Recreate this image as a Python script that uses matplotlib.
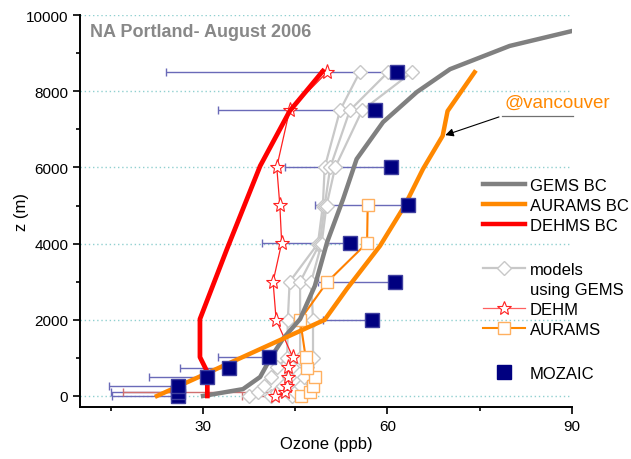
import numpy as np
import matplotlib
matplotlib.use("Agg")
import matplotlib.pyplot as plt
from matplotlib.lines import Line2D

plt.rcParams['font.family'] = ['Liberation Sans', 'DejaVu Sans']

# boundary conditions profiles
gems_bc_z = [0, 180, 500, 970, 1500, 2020, 2890, 4040, 5170, 6220, 7190, 7980, 8580, 9190, 9580]
gems_bc_o3 = [30.0, 36.5, 39.3, 40.9, 43.0, 45.8, 48.2, 50.2, 52.8, 55.0, 59.3, 64.8, 70.2, 79.9, 90.0]

aurams_bc_z = [0, 2000, 2810, 3940, 4990, 5960, 6830, 7480, 8500]
aurams_bc_o3 = [22.5, 49.8, 53.4, 58.8, 62.8, 65.8, 69.0, 69.8, 74.2]

dehms_bc_z = [0, 630, 1020, 2020, 3860, 6040, 7480, 8530]
dehms_bc_o3 = [30.7, 30.7, 29.5, 29.5, 33.9, 39.3, 44.1, 49.5]

# models driven by GEMS
gems_models_z = [0, 100, 250, 500, 750, 1000, 2000, 3000, 4000, 5000, 6000, 7500, 8500]
gems_model_a = [37.5, 39.0, 40.0, 41.0, 42.0, 43.7, 43.8, 44.1, 48.7, 49.5, 49.8, 52.3, 55.5]
gems_model_b = [41.0, 42.0, 43.0, 44.0, 44.5, 45.8, 45.8, 45.8, 49.0, 49.8, 50.7, 53.9, 60.1]
gems_model_c = [44.5, 45.0, 46.0, 46.5, 47.0, 47.9, 47.9, 47.6, 49.3, 50.1, 51.5, 55.9, 64.0]

dehm_z = [0, 100, 260, 500, 760, 1020, 2000, 3000, 4020, 5010, 6010, 7510, 8500]
dehm_o3 = [41.7, 43.3, 43.7, 43.8, 43.8, 44.6, 41.9, 41.4, 42.8, 42.5, 42.0, 44.1, 50.2]

aurams_z = [0, 100, 260, 500, 740, 1020, 2000, 2990, 4020, 5010]
aurams_o3 = [45.9, 47.4, 47.9, 48.2, 47.0, 46.7, 45.8, 50.2, 56.7, 56.8]

# MOZAIC observations, left extent of the bars
mozaic_z = [0, 100, 260, 500, 740, 1020, 2000, 2990, 4020, 5010, 6010, 7510, 8500]
mozaic_o3 = [25.9, 25.9, 25.9, 30.7, 34.2, 40.7, 57.5, 61.2, 53.9, 63.3, 60.6, 58.0, 61.5]
mozaic_lo = [15.2, 15.0, 14.7, 21.2, 26.3, 32.4, 49.5, 48.7, 39.6, 48.2, 43.3, 32.4, 23.9]

dehm_err_z = [0, 100]
dehm_err_o3 = [41.7, 43.3]
dehm_err_lo = [36.3, 17.0]

fig = plt.figure(figsize=(6.31, 4.60), dpi=100)
ax = fig.add_axes([0.127, 0.113, 0.779, 0.852])

for yv in range(0, 10001, 2000):
    ax.axhline(yv, color='#90d0d0', ls=(0, (1, 2)), lw=1, zorder=0)

ax.errorbar(mozaic_o3, mozaic_z,
            xerr=[np.array(mozaic_o3) - np.array(mozaic_lo), np.zeros(len(mozaic_o3))],
            fmt='none', ecolor='#6a6ab8', elinewidth=1, capsize=3, zorder=1)
ax.errorbar(dehm_err_o3, dehm_err_z,
            xerr=[np.array(dehm_err_o3) - np.array(dehm_err_lo), np.zeros(2)],
            fmt='none', ecolor='#d07070', elinewidth=1, capsize=3, zorder=1)

mstyle = dict(color='#c8c8c8', lw=1.6, marker='D', ms=7, mfc='white', mec='#c8c8c8', mew=1)
for m in (gems_model_a, gems_model_b, gems_model_c):
    ax.plot(m, gems_models_z, zorder=2, **mstyle)

ax.plot(dehm_o3, dehm_z, color='#ff2020', lw=0.9, marker='*', ms=11, mfc='white', mec='#ff2020', mew=0.8, zorder=3)
ax.plot(aurams_o3, aurams_z, color='#ff8000', lw=1.5, marker='s', ms=8, mfc='white', mec='#ffb060', mew=1, zorder=3)

ax.plot(gems_bc_o3, gems_bc_z, color='#808080', lw=3.2, zorder=4)
ax.plot(aurams_bc_o3, aurams_bc_z, color='#ff8800', lw=3.2, zorder=4)
ax.plot(dehms_bc_o3, dehms_bc_z, color='#ff0000', lw=3.4, zorder=4)

ax.plot(mozaic_o3, mozaic_z, ls='none', marker='s', ms=10, color='#000080', mec='#4040a0', zorder=5)

ax.set_xlim(10, 90)
ax.set_ylim(-290, 10000)
ax.set_xticks([30, 60, 90])
ax.set_xticks([15, 45, 75], minor=True)
ax.set_yticks(range(0, 10001, 2000))
ax.set_yticks(range(1000, 10000, 2000), minor=True)
ax.tick_params(direction='out', length=5, width=1.2, labelsize=11)
ax.tick_params(which='minor', direction='out', length=3, width=1.2)
for s in ('top', 'right'):
    ax.spines[s].set_visible(False)
for s in ('left', 'bottom'):
    ax.spines[s].set_linewidth(1.4)

ax.set_xlabel('Ozone (ppb)', fontsize=12)
ax.set_ylabel('z (m)', fontsize=12)
ax.xaxis.set_label_coords(0.5, -0.075)
ax.yaxis.set_label_coords(-0.105, 0.5)

ax.text(11.6, 9560, 'NA Portland- August 2006', color='#888888', fontsize=13,
        fontweight='bold', va='center', ha='left')

ax.text(79.0, 7720, '@vancouver', color='#ff8800', fontsize=13.5, va='center', ha='left')
ax.plot([78.6, 90.2], [7350, 7350], color='#707070', lw=0.9, clip_on=False)
ax.annotate('', xy=(69.0, 6825), xytext=(78.6, 7350),
            arrowprops=dict(arrowstyle='-|>', color='black', lw=0.8, mutation_scale=12))

leg_kw = dict(loc='upper left', frameon=False, fontsize=12, handlelength=2.5,
              handletextpad=0.3, labelspacing=0.3, borderpad=0, borderaxespad=0)

bc_handles = [
    Line2D([], [], color='#808080', lw=3.2),
    Line2D([], [], color='#ff8800', lw=3.2),
    Line2D([], [], color='#ff0000', lw=3.2),
]
leg1 = ax.legend(bc_handles, ['GEMS BC', 'AURAMS BC', 'DEHMS BC'],
                 bbox_to_anchor=(0.82, 0.585), **leg_kw)
ax.add_artist(leg1)

model_handles = [
    Line2D([], [], **mstyle),
    Line2D([], [], ls='none'),
    Line2D([], [], color='#ff6060', lw=0.9, marker='*', ms=10, mfc='white', mec='#ff2020', mew=0.8),
    Line2D([], [], color='#ff8800', lw=1.5, marker='s', ms=8, mfc='white', mec='#ffb060'),
]
leg2 = ax.legend(model_handles, ['models', 'using GEMS', 'DEHM', 'AURAMS'],
                 bbox_to_anchor=(0.82, 0.37), **leg_kw)
ax.add_artist(leg2)

ax.legend([Line2D([], [], ls='none', marker='s', ms=10, color='#000080')], ['MOZAIC'],
          bbox_to_anchor=(0.82, 0.105), **leg_kw)

fig.savefig('out.png', dpi=100)
